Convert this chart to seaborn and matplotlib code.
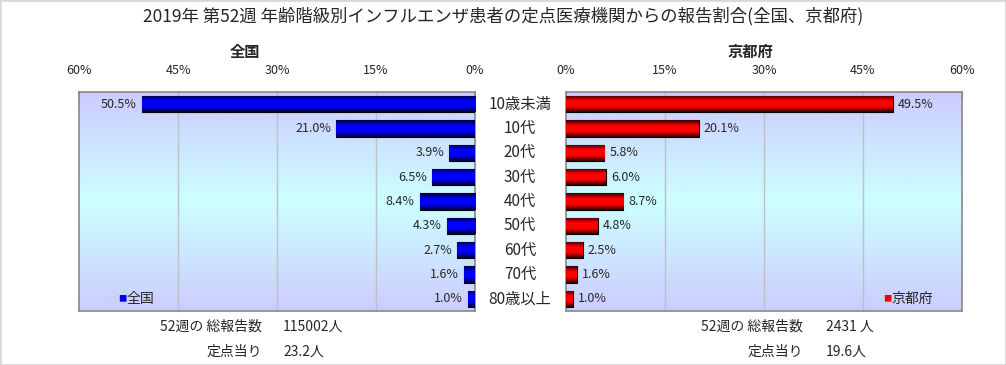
import matplotlib
matplotlib.use('Agg')
import matplotlib.pyplot as plt
import numpy as np
import pandas as pd
import seaborn as sns
from matplotlib.colors import LinearSegmentedColormap
from matplotlib.patches import Rectangle

# データ
categories = ['10歳未満', '10代', '20代', '30代', '40代', '50代', '60代', '70代', '80歳以上']
zenkoku = [50.5, 21.0, 3.9, 6.5, 8.4, 4.3, 2.7, 1.6, 1.0]
kyoto = [49.5, 20.1, 5.8, 6.0, 8.7, 4.8, 2.5, 1.6, 1.0]
ticks = [0, 15, 30, 45, 60]
tick_labels = ['0%', '15%', '30%', '45%', '60%']
zenkoku_total = '115002人'
zenkoku_per = '23.2人'
kyoto_total = '2431 人'
kyoto_per = '19.6人'

sns.set_style('white')
plt.rcParams['font.family'] = ['Noto Sans CJK JP', 'DejaVu Sans']

df = pd.DataFrame({'age': categories, '全国': zenkoku, '京都府': kyoto})

fig = plt.figure(figsize=(10.06, 3.65), dpi=100)
fig.patches.append(Rectangle((0, 0), 1, 1, transform=fig.transFigure,
                             fill=False, edgecolor='#d8d8d8', lw=2))

ax_l = fig.add_axes([79 / 1006, 54 / 365, 396 / 1006, 219 / 365])
ax_r = fig.add_axes([566 / 1006, 54 / 365, 396 / 1006, 219 / 365])

bg_cmap = LinearSegmentedColormap.from_list('bg', ['#ccccff', '#ccffff', '#ccccff'])
bar_blue = LinearSegmentedColormap.from_list('bb', ['#000030', '#0000ff', '#0000ff', '#000030'])
bar_red = LinearSegmentedColormap.from_list('br', ['#300000', '#ff0000', '#ff0000', '#300000'])
grad = np.linspace(0, 1, 256).reshape(-1, 1)


def draw_side(ax, col, color, cmap, side):
    sns.barplot(data=df, x=col, y='age', orient='h', color=color, width=0.68,
                edgecolor='black', linewidth=0.8, ax=ax, zorder=3)
    ax.set_xlim(0, 60)
    ax.set_ylim(len(categories) - 0.5, -0.5)
    if side == 'left':
        ax.invert_xaxis()
    # 背景グラデーション
    ax.imshow(grad, aspect='auto', cmap=bg_cmap, extent=[0, 1, 0, 1],
              transform=ax.transAxes, zorder=0)
    # バーのグラデーション
    for p in ax.patches:
        x0, y0 = p.get_x(), p.get_y()
        w, h = p.get_width(), p.get_height()
        im = ax.imshow(grad, aspect='auto', cmap=cmap,
                       extent=[x0, x0 + w, y0 + h, y0], zorder=3.5)
        im.set_clip_path(p)
    for v in ticks[1:-1]:
        ax.axvline(v, color='#c0c0c0', lw=1, zorder=1)
    ax.xaxis.tick_top()
    ax.set_xticks(ticks)
    ax.set_xticklabels(tick_labels, fontsize=9)
    ax.tick_params(axis='x', direction='in', length=4, color='#888888', pad=11)
    ax.set_yticks([])
    ax.set_xlabel('')
    ax.set_ylabel('')
    for s in ax.spines.values():
        s.set_color('#888888')
        s.set_linewidth(1.2)
    vals = df[col].tolist()
    for i, v in enumerate(vals):
        if side == 'left':
            ax.text(v + 0.8, i, f'{v:.1f}%', ha='right', va='center', fontsize=9, zorder=5)
        else:
            ax.text(v + 0.8, i, f'{v:.1f}%', ha='left', va='center', fontsize=9, zorder=5)


draw_side(ax_l, '全国', '#0000ff', bar_blue, 'left')
draw_side(ax_r, '京都府', '#ff0000', bar_red, 'right')

# 凡例
ax_l.text(0.098, 0.055, '■', color='#0000ee', fontsize=6, transform=ax_l.transAxes,
          va='center', ha='left')
ax_l.text(0.12, 0.055, '全国', fontsize=10, transform=ax_l.transAxes, va='center', ha='left')
ax_r.text(0.80, 0.055, '■', color='#ee0000', fontsize=6, transform=ax_r.transAxes,
          va='center', ha='left')
ax_r.text(0.822, 0.055, '京都府', fontsize=10, transform=ax_r.transAxes, va='center', ha='left')

# 年齢ラベル
for i, c in enumerate(categories):
    y = (365 - (92 + 219 / 9 * (i + 0.5))) / 365
    fig.text(520 / 1006, y, c, ha='center', va='center', fontsize=11)

fig.text(503 / 1006, 1 - 16 / 365,
         '2019年 第52週 年齢階級別インフルエンザ患者の定点医療機関からの報告割合(全国、京都府)',
         ha='center', va='center', fontsize=12.5)
fig.text(245 / 1006, 1 - 52 / 365, '全国', ha='center', va='center', fontsize=11, fontweight='bold')
fig.text(750 / 1006, 1 - 52 / 365, '京都府', ha='center', va='center', fontsize=11, fontweight='bold')

# 報告数
fig.text(262 / 1006, 1 - 327 / 365, '52週の 総報告数', ha='right', va='center', fontsize=10)
fig.text(283 / 1006, 1 - 327 / 365, zenkoku_total, ha='left', va='center', fontsize=10)
fig.text(262 / 1006, 1 - 352 / 365, '定点当り', ha='right', va='center', fontsize=10)
fig.text(283 / 1006, 1 - 352 / 365, zenkoku_per, ha='left', va='center', fontsize=10)
fig.text(803 / 1006, 1 - 327 / 365, '52週の 総報告数', ha='right', va='center', fontsize=10)
fig.text(826 / 1006, 1 - 327 / 365, kyoto_total, ha='left', va='center', fontsize=10)
fig.text(803 / 1006, 1 - 352 / 365, '定点当り', ha='right', va='center', fontsize=10)
fig.text(826 / 1006, 1 - 352 / 365, kyoto_per, ha='left', va='center', fontsize=10)

fig.savefig('out.png', dpi=100)
